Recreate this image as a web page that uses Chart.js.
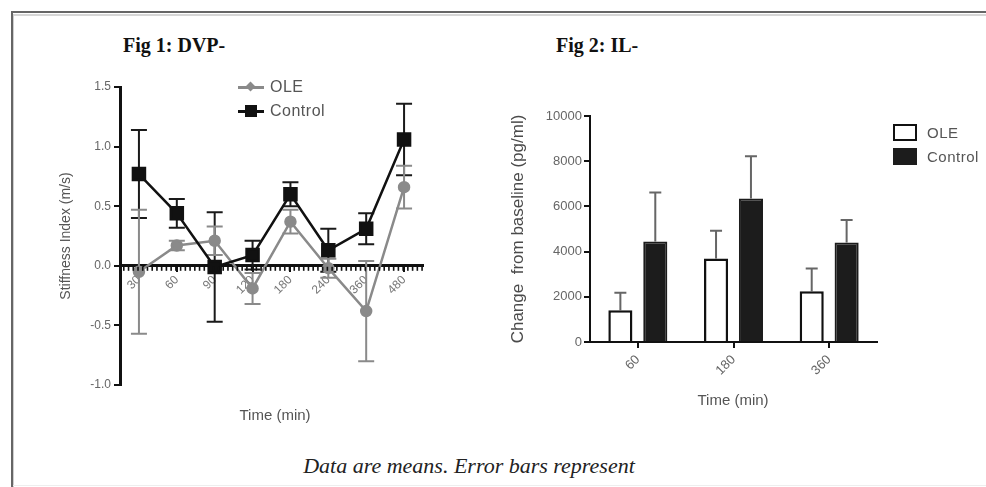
<!DOCTYPE html>
<html>
<head>
<meta charset="utf-8">
<script src="https://cdn.jsdelivr.net/npm/chart.js@4.4.1/dist/chart.umd.min.js"></script>
<style>
  body { margin: 0; background: #fff; width: 986px; height: 487px; overflow: hidden; position: relative; font-family: "Liberation Sans", Arial, sans-serif; }
  .abs { position: absolute; }
  .frame-top { left: 11px; top: 11px; right: 0; height: 2px; background: #666; }
  .frame-top2 { left: 13px; top: 14px; right: 0; height: 2px; background: #d6d6d6; }
  .frame-left { left: 11px; top: 11px; width: 2px; bottom: 0; background: #666; }
  .frame-left2 { left: 13px; top: 14px; width: 1px; bottom: 0; background: #cfcfcf; }
  .frame-bottom { left: 13px; bottom: 1px; right: 0; height: 1px; background: #eee; }
  .fig-title { font-family: "Liberation Serif", "Times New Roman", serif; font-weight: bold; font-size: 20px; color: #111; top: 34px; }
  .axis-title { font-size: 15px; color: #555; transform: translateX(-50%); white-space: nowrap; }
  .leg { font-size: 16px; color: #555; display: flex; align-items: center; letter-spacing: 0.5px; }
  .leg .mk { position: relative; width: 26px; height: 12px; margin-right: 6px; }
  .leg .ln { position: absolute; left: 0; right: 0; top: 5px; height: 2.5px; }
  .leg .pt { position: absolute; }
  .sq { width: 20px; height: 13px; border: 2px solid #111; margin-right: 10px; }
  .caption { font-family: "Liberation Serif", "Times New Roman", serif; font-style: italic; font-size: 22px; color: #222; left: 469px; top: 453px; transform: translateX(-50%); white-space: nowrap; }
</style>
</head>
<body>
<div class="abs frame-top"></div>
<div class="abs frame-top2"></div>
<div class="abs frame-left"></div>
<div class="abs frame-left2"></div>
<div class="abs frame-bottom"></div>

<div class="abs fig-title" style="left:123px">Fig 1: DVP-</div>
<div class="abs fig-title" style="left:556px">Fig 2: IL-</div>

<canvas id="c1" class="abs" width="480" height="440" style="left:0;top:0"></canvas>
<canvas id="c2" class="abs" width="516" height="440" style="left:470px;top:0"></canvas>

<div class="abs leg" style="left:238px;top:78px">
  <div class="mk"><div class="ln" style="background:#8a8a8a"></div>
    <div class="pt" style="left:9px;top:2px;width:7px;height:7px;background:#8a8a8a;transform:rotate(45deg)"></div></div>OLE
</div>
<div class="abs leg" style="left:238px;top:102px">
  <div class="mk"><div class="ln" style="background:#111"></div>
    <div class="pt" style="left:7px;top:0px;width:12px;height:12px;background:#111"></div></div>Control
</div>

<div class="abs leg" style="left:893px;top:124px;font-size:15px"><div class="sq" style="background:#fff"></div>OLE</div>
<div class="abs leg" style="left:893px;top:148px;font-size:15px"><div class="sq" style="background:#1c1c1c;border-color:#1c1c1c"></div>Control</div>

<div class="abs axis-title" style="left:275px;top:406px">Time (min)</div>
<div class="abs axis-title" style="left:733px;top:391px">Time (min)</div>

<div class="abs caption">Data are means. Error bars represent</div>

<script>
// Fig 1: stiffness index over time
const timeLabels1 = ['30', '60', '90', '120', '180', '240', '360', '480'];
const oleStiffness = [-0.05, 0.17, 0.21, -0.19, 0.37, -0.02, -0.38, 0.66];
const oleStiffnessErr = [0.52, 0.04, 0.12, 0.13, 0.10, 0.08, 0.42, 0.18];
const controlStiffness = [0.77, 0.44, -0.01, 0.09, 0.60, 0.13, 0.31, 1.06];
const controlStiffnessErr = [0.37, 0.12, 0.46, 0.12, 0.10, 0.18, 0.13, 0.30];

// Fig 2: IL change from baseline
const timeLabels2 = ['60', '180', '360'];
const oleIL = [1400, 3700, 2250];
const oleILErr = [780, 1220, 1000];
const controlIL = [4450, 6350, 4400];
const controlILErr = [2170, 1870, 1000];

// draws error bars from each dataset's errors array
const errorBars = {
    id: 'errorBars',
    beforeDatasetsDraw(chart, args, opts) {
        const ctx = chart.ctx;
        const yScale = chart.scales.y;
        chart.data.datasets.forEach((ds, i) => {
            if (!ds.errors) return;
            const meta = chart.getDatasetMeta(i);
            ctx.save();
            ctx.strokeStyle = ds.errorColor;
            ctx.lineWidth = 2;
            meta.data.forEach((el, j) => {
                const v = ds.data[j], e = ds.errors[j];
                const top = yScale.getPixelForValue(v + e);
                const bottom = yScale.getPixelForValue(opts.upOnly ? v : v - e);
                const half = opts.cap / 2;
                ctx.beginPath();
                ctx.moveTo(el.x, top);
                ctx.lineTo(el.x, bottom);
                ctx.moveTo(el.x - half, top);
                ctx.lineTo(el.x + half, top);
                if (!opts.upOnly) {
                    ctx.moveTo(el.x - half, bottom);
                    ctx.lineTo(el.x + half, bottom);
                }
                ctx.stroke();
            });
            ctx.restore();
        });
    }
};

// small tick marks all along the zero line
const minorTicks = {
    id: 'minorTicks',
    afterDatasetsDraw(chart) {
        const ctx = chart.ctx;
        const x = chart.scales.x;
        const y0 = chart.scales.y.getPixelForValue(0);
        const step = (x.getPixelForValue(1) - x.getPixelForValue(0)) / 8;
        ctx.save();
        ctx.fillStyle = '#111';
        for (let px = x.left + 3; px < x.right; px += step) {
            ctx.fillRect(px, y0 + 1, 1.6, 4);
        }
        ctx.restore();
    }
};

new Chart(document.getElementById('c1'), {
    type: 'line',
    data: {
        labels: timeLabels1,
        datasets: [
            {
                label: 'Control',
                data: controlStiffness,
                errors: controlStiffnessErr,
                errorColor: '#1a1a1a',
                borderColor: '#111',
                backgroundColor: '#111',
                borderWidth: 2.5,
                pointStyle: 'rect',
                pointRadius: 8.5,
                tension: 0
            },
            {
                label: 'OLE',
                data: oleStiffness,
                errors: oleStiffnessErr,
                errorColor: '#8a8a8a',
                borderColor: '#8a8a8a',
                backgroundColor: '#8a8a8a',
                borderWidth: 2.5,
                pointStyle: 'circle',
                pointRadius: 5,
                tension: 0
            }
        ]
    },
    options: {
        responsive: false,
        animation: false,
        layout: { padding: { left: 58, top: 87, right: 57, bottom: 55 } },
        plugins: {
            legend: { display: false },
            tooltip: { enabled: false },
            errorBars: { cap: 16, upOnly: false }
        },
        scales: {
            x: {
                position: { y: 0 },
                offset: true,
                border: { color: '#111', width: 3 },
                grid: { drawOnChartArea: false, color: '#111', tickLength: 5, lineWidth: 2 },
                ticks: { minRotation: 45, maxRotation: 45, color: '#777', font: { size: 12 }, padding: 2 }
            },
            y: {
                min: -1,
                max: 1.5,
                border: { color: '#111', width: 3 },
                grid: { drawOnChartArea: false, color: '#111', tickLength: 6, lineWidth: 2 },
                ticks: { stepSize: 0.5, color: '#666', font: { size: 12 }, padding: 3, callback: v => v.toFixed(1) },
                title: { display: true, text: 'Stiffness Index (m/s)', color: '#555', font: { size: 14 }, padding: 0 },
                afterFit(scale) { scale.width = 62; }
            }
        }
    },
    plugins: [errorBars, minorTicks]
});

new Chart(document.getElementById('c2'), {
    type: 'bar',
    data: {
        labels: timeLabels2,
        datasets: [
            {
                label: 'OLE',
                data: oleIL,
                errors: oleILErr,
                errorColor: '#666',
                backgroundColor: '#fff',
                borderColor: '#111',
                borderWidth: 2.5,
                categoryPercentage: 0.73,
                barPercentage: 0.69
            },
            {
                label: 'Control',
                data: controlIL,
                errors: controlILErr,
                errorColor: '#666',
                backgroundColor: '#1c1c1c',
                borderColor: '#1c1c1c',
                borderWidth: 2,
                categoryPercentage: 0.73,
                barPercentage: 0.69
            }
        ]
    },
    options: {
        responsive: false,
        animation: false,
        layout: { padding: { left: 38, top: 116, right: 109, bottom: 58 } },
        plugins: {
            legend: { display: false },
            tooltip: { enabled: false },
            errorBars: { cap: 12, upOnly: true }
        },
        scales: {
            x: {
                border: { color: '#111', width: 2 },
                grid: { offset: false, drawOnChartArea: false, color: '#111', tickLength: 6, lineWidth: 2 },
                ticks: { minRotation: 45, maxRotation: 45, color: '#666', font: { size: 13 }, padding: 4 },
                afterFit(scale) { scale.height = 40; }
            },
            y: {
                min: 0,
                max: 10000,
                border: { color: '#111', width: 2 },
                grid: { drawOnChartArea: false, color: '#111', tickLength: 6, lineWidth: 2 },
                ticks: { stepSize: 2000, color: '#666', font: { size: 13 }, padding: 2, callback: v => String(v) },
                title: { display: true, text: 'Change  from baseline (pg/ml)', color: '#4a4a4a', font: { size: 17 }, padding: 0 },
                afterFit(scale) { scale.width = 82; }
            }
        }
    },
    plugins: [errorBars]
});
</script>
</body>
</html>
